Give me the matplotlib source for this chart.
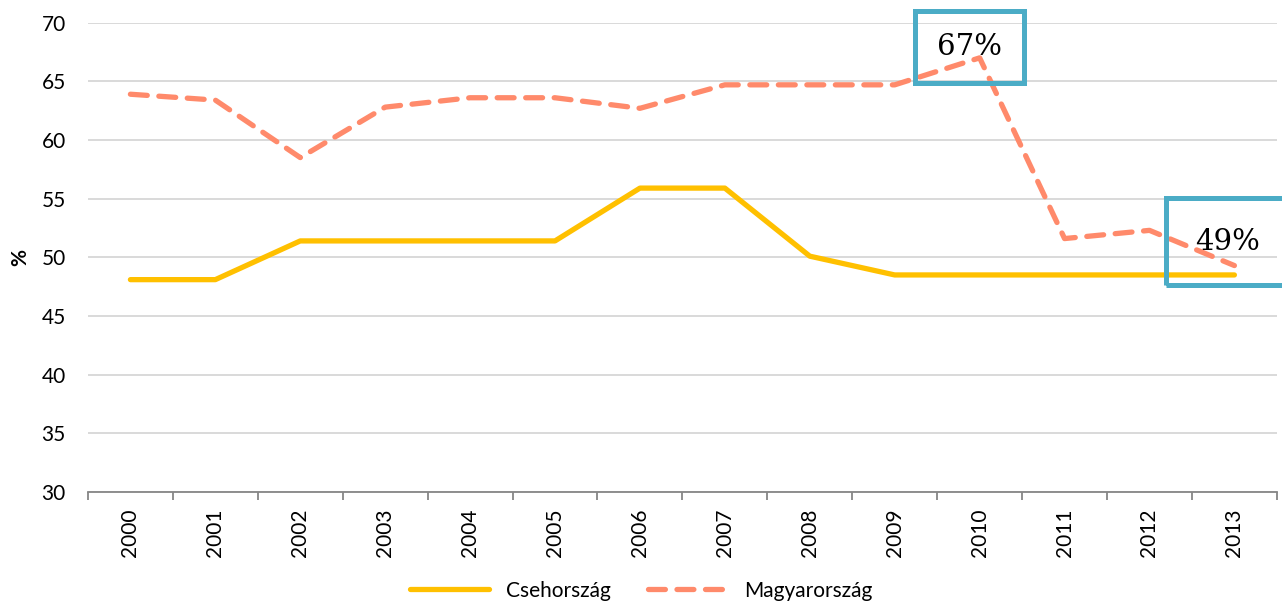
import matplotlib.pyplot as plt
from matplotlib.ticker import FixedLocator


years = [2000, 2001, 2002, 2003, 2004, 2005, 2006, 2007, 2008, 2009, 2010, 2011, 2012, 2013]
cseh = [48.1, 48.1, 51.4, 51.4, 51.4, 51.4, 55.9, 55.9, 50.1, 48.5, 48.5, 48.5, 48.5, 48.5]
magyar = [63.9, 63.4, 58.5, 62.8, 63.6, 63.6, 62.7, 64.7, 64.7, 64.7, 67.0, 51.6, 52.3, 49.3]

# callouts: (index into years, text, offset in px, box pad)
callouts = [(10, "67%", (-10, 11), 0.75), (13, "49%", (-7, 24), 1.0)]

plt.rcParams['font.family'] = ['Lato', 'DejaVu Sans']

fig = plt.figure(figsize=(12.82, 6.12), dpi=100)
ax = fig.add_axes([0.0686, 0.196, 0.9274, 0.767])

x = list(range(len(years)))

ax.plot(x, cseh, color='#FFC000', linewidth=3.8, solid_capstyle='round',
        solid_joinstyle='round', label='Csehország')
ax.plot(x, magyar, color='#FF8A6B', linewidth=3.8, linestyle=(0, (3.2, 2.2)),
        dash_capstyle='round', label='Magyarország')

for i, txt, (dx, dy), pad in callouts:
    ax.annotate(txt, (x[i], magyar[i]), xytext=(dx * 0.72, dy * 0.72),
                textcoords='offset points', ha='center', va='center',
                fontsize=21, family='DejaVu Serif', annotation_clip=False,
                bbox=dict(boxstyle='square,pad=%s' % pad, fc='none',
                          ec='#4BACC6', lw=3.6))

ax.set_ylim(30, 70)
ax.set_xlim(-0.5, len(years) - 0.5)
ax.set_yticks(range(30, 71, 5))
ax.set_xticks(x)
ax.set_xticklabels([str(y) for y in years], rotation=90)
ax.xaxis.set_minor_locator(FixedLocator([i - 0.5 for i in range(len(years) + 1)]))
ax.tick_params(axis='x', which='major', length=0, pad=12, labelsize=15)
ax.tick_params(axis='x', which='minor', length=6, width=1.3, color='#868686')
ax.tick_params(axis='y', length=0, pad=16, labelsize=15)

ax.grid(axis='y', color='#D9D9D9', linewidth=1.4)
ax.set_axisbelow(True)
for s in ['top', 'right', 'left']:
    ax.spines[s].set_visible(False)
ax.spines['bottom'].set_color('#868686')
ax.spines['bottom'].set_linewidth(1.3)

ax.set_ylabel('%', fontsize=15, fontweight='bold', labelpad=8)

fig.legend(loc='lower center', bbox_to_anchor=(0.5, -0.012), ncol=2,
           frameon=False, fontsize=15, handlelength=3.8, columnspacing=1.8)

fig.savefig('out.png', dpi=100)
